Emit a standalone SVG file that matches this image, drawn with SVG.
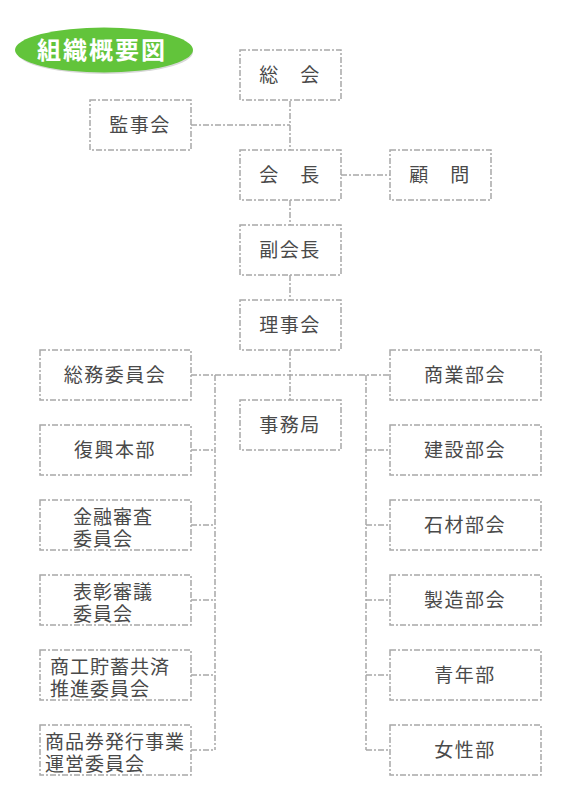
<svg xmlns="http://www.w3.org/2000/svg" width="580" height="800" viewBox="0 0 580 800">
<style>
.box{fill:#fff;stroke:#a8a8a8;stroke-width:1.5;stroke-dasharray:6 2 2 2}
.ln{fill:none;stroke:#a8a8a8;stroke-width:1.5;stroke-dasharray:6 2 2 2}
.t{font-family:"Liberation Sans","Noto Sans CJK JP","Noto Sans CJK SC",sans-serif;font-size:19px;fill:#4a4a4a;text-anchor:middle;letter-spacing:1.5px}
.tl{font-family:"Liberation Sans","Noto Sans CJK JP","Noto Sans CJK SC",sans-serif;font-size:19px;fill:#4a4a4a;letter-spacing:1px}
</style>
<rect width="580" height="800" fill="#fff"/>
<g id="title">
<ellipse cx="105" cy="52" rx="88" ry="22" fill="#d8d8d8"/>
<ellipse cx="104" cy="50" rx="89" ry="22.5" fill="#62c43b"/>
<text x="102" y="59" style="font-family:'Noto Sans CJK JP',sans-serif;font-size:24px;font-weight:bold;fill:#fff;text-anchor:middle;letter-spacing:2px">組織概要図</text>
</g>
<g id="connectors">
<path class="ln" d="M290 101V150M191 125H290M341 175H390M290 200V225M290 275V300M290 350V400M191 375H390"/>
<path class="ln" d="M215 375V750M191 450H215M191 525H215M191 600H215M191 675H215M191 750H215"/>
<path class="ln" d="M366 375V750M366 450H390M366 525H390M366 600H390M366 675H390M366 750H390"/>
</g>
<g id="n-soukai"><rect class="box" x="240" y="50" width="101" height="50"/><text class="t" x="290" y="82">総　会</text></g>
<g id="n-kanjikai"><rect class="box" x="90" y="100" width="101" height="50"/><text class="t" x="140" y="132">監事会</text></g>
<g id="n-kaicho"><rect class="box" x="240" y="150" width="101" height="50"/><text class="t" x="290" y="182">会　長</text></g>
<g id="n-komon"><rect class="box" x="390" y="150" width="101" height="50"/><text class="t" x="440" y="182">顧　問</text></g>
<g id="n-fukukaicho"><rect class="box" x="240" y="225" width="101" height="50"/><text class="t" x="290" y="257">副会長</text></g>
<g id="n-rijikai"><rect class="box" x="240" y="300" width="101" height="50"/><text class="t" x="290" y="332">理事会</text></g>
<g id="n-jimukyoku"><rect class="box" x="240" y="400" width="101" height="50"/><text class="t" x="290" y="432">事務局</text></g>
<g id="n-soumu"><rect class="box" x="40" y="350" width="151" height="50"/><text class="t" x="115" y="382">総務委員会</text></g>
<g id="n-fukko"><rect class="box" x="40" y="425" width="151" height="50"/><text class="t" x="115" y="457">復興本部</text></g>
<g id="n-kinyu"><rect class="box" x="40" y="500" width="151" height="50"/><text class="tl" x="73" y="524">金融審査</text><text class="tl" x="73" y="546">委員会</text></g>
<g id="n-hyosho"><rect class="box" x="40" y="575" width="151" height="50"/><text class="tl" x="73" y="599">表彰審議</text><text class="tl" x="73" y="621">委員会</text></g>
<g id="n-chochiku"><rect class="box" x="40" y="650" width="151" height="50"/><text class="tl" x="50" y="674">商工貯蓄共済</text><text class="tl" x="50" y="696">推進委員会</text></g>
<g id="n-shohinken"><rect class="box" x="40" y="725" width="151" height="50"/><text class="tl" x="45" y="749">商品券発行事業</text><text class="tl" x="45" y="771">運営委員会</text></g>
<g id="n-shogyo"><rect class="box" x="390" y="350" width="151" height="50"/><text class="t" x="465" y="382">商業部会</text></g>
<g id="n-kensetsu"><rect class="box" x="390" y="425" width="151" height="50"/><text class="t" x="465" y="457">建設部会</text></g>
<g id="n-sekizai"><rect class="box" x="390" y="500" width="151" height="50"/><text class="t" x="465" y="532">石材部会</text></g>
<g id="n-seizo"><rect class="box" x="390" y="575" width="151" height="50"/><text class="t" x="465" y="607">製造部会</text></g>
<g id="n-seinen"><rect class="box" x="390" y="650" width="151" height="50"/><text class="t" x="465" y="682">青年部</text></g>
<g id="n-josei"><rect class="box" x="390" y="725" width="151" height="50"/><text class="t" x="465" y="757">女性部</text></g>
</svg>
